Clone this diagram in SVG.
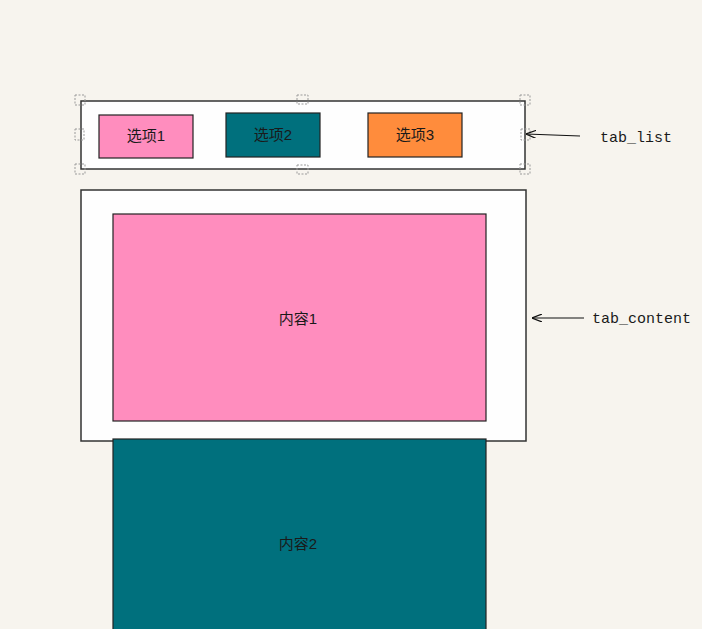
<svg xmlns="http://www.w3.org/2000/svg" width="702" height="629" viewBox="0 0 702 629">
<defs>
<marker id="arr" markerWidth="10" markerHeight="8" refX="10" refY="4" orient="auto" markerUnits="userSpaceOnUse">
<path d="M0,0 L10,4 L0,8" fill="none" stroke="#111" stroke-width="1.2"/>
</marker>
</defs>
<style>
.frame{fill:#fefefe;stroke:#333;stroke-width:1.5}
.box{stroke:#222;stroke-width:1.2}
.lbl{font-family:"Liberation Sans","Noto Sans CJK SC",sans-serif;font-size:15px;fill:#1a1a1a;text-anchor:middle}
.code{font-family:"Liberation Mono",monospace;font-size:15px;fill:#1a1a1a}
.h{fill:none;stroke:#999;stroke-width:1;stroke-dasharray:2,1.5}
.conn{stroke:#111;stroke-width:1.2;fill:none}
</style>
<rect width="702" height="629" fill="#f7f4ee"/>
<g id="tab_list">
<rect class="frame" x="81" y="101" width="444" height="68"/>
<rect class="h" x="75" y="95" width="10" height="10"/>
<rect class="h" x="297" y="95" width="11" height="9"/>
<rect class="h" x="520" y="95" width="10" height="10"/>
<rect class="h" x="75" y="129" width="9" height="11"/>
<rect class="h" x="521" y="129" width="9" height="11"/>
<rect class="h" x="75" y="164" width="10" height="10"/>
<rect class="h" x="297" y="165" width="11" height="9"/>
<rect class="h" x="520" y="164" width="10" height="10"/>
</g>
<g id="tab1">
<rect class="box" x="99" y="115" width="94" height="43" fill="#ff8dbe"/>
<text class="lbl" x="146" y="141">选项1</text>
</g>
<g id="tab2">
<rect class="box" x="226" y="113" width="94" height="44" fill="#00707d"/>
<text class="lbl" x="273" y="140">选项2</text>
</g>
<g id="tab3">
<rect class="box" x="368" y="113" width="94" height="44" fill="#ff8c3c"/>
<text class="lbl" x="415" y="140">选项3</text>
</g>
<g id="tab_content">
<rect class="frame" x="81" y="190" width="445" height="251"/>
</g>
<g id="content1">
<rect class="box" x="113" y="214" width="373" height="207" fill="#ff8dbe"/>
<text class="lbl" x="298" y="324">内容1</text>
</g>
<g id="content2">
<rect class="box" x="113" y="439" width="373" height="200" fill="#00707d"/>
<text class="lbl" x="298" y="549">内容2</text>
</g>
<g id="connectors">
<line class="conn" x1="580" y1="136" x2="526" y2="134" marker-end="url(#arr)"/>
<line class="conn" x1="584" y1="318" x2="532" y2="318" marker-end="url(#arr)"/>
</g>
<text class="code" x="600" y="142">tab_list</text>
<text class="code" x="592" y="323">tab_content</text>
</svg>
